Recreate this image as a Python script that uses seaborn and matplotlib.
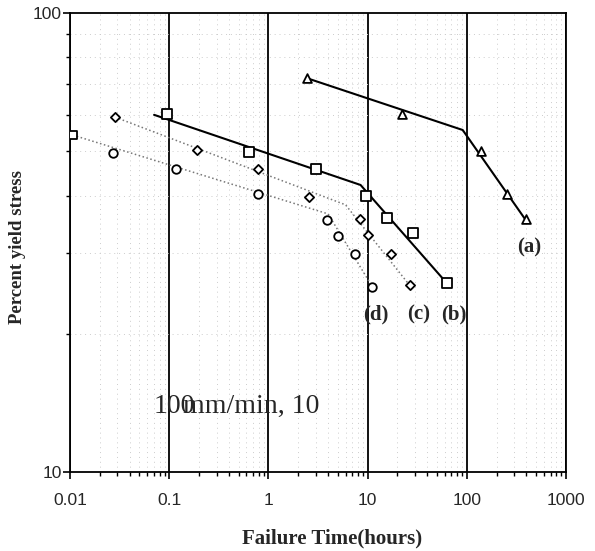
import numpy as np
import pandas as pd
import matplotlib
matplotlib.use("Agg")
import matplotlib.pyplot as plt
import seaborn as sns
from matplotlib.ticker import LogLocator, FixedLocator, NullFormatter, FixedFormatter

sns.set_theme(style="white")
plt.rcParams["font.family"] = ["Liberation Sans", "DejaVu Sans"]

# Measured creep-rupture points (failure time in hours, % of yield stress)
a_time = [2.48, 22.0, 138, 254, 394]
a_stress = [72.1, 60.3, 50.0, 40.3, 35.6]
b_time = [0.0955, 0.643, 3.05, 9.55, 15.6, 28.5, 62.8]
b_stress = [60.3, 49.8, 45.7, 39.9, 35.7, 33.2, 25.8]
c_time = [0.0285, 0.192, 0.793, 2.54, 8.3, 10.2, 17.1, 26.6]
c_stress = [59.3, 50.3, 45.7, 39.7, 35.6, 32.8, 29.8, 25.5]
d_time = [0.0107, 0.0272, 0.118, 0.793, 3.94, 4.98, 7.39, 11.2]
d_stress = [54.2, 49.5, 45.7, 40.3, 35.4, 32.7, 29.8, 25.3]
d_marks = ["s", "o", "o", "o", "o", "o", "o", "o"]

# Two-branch fitted lines (start, knee, end)
a_fit_time = [2.5, 91, 400]
a_fit_stress = [72.0, 55.6, 35.2]
b_fit_time = [0.0705, 8.5, 62.8]
b_fit_stress = [60.0, 42.2, 25.8]
c_fit_time = [0.0285, 6.0, 26.6]
c_fit_stress = [59.3, 38.2, 25.5]
d_fit_time = [0.0107, 4.0, 11.2]
d_fit_stress = [54.2, 36.5, 25.3]

curve_labels = ["(a)", "(b)", "(c)", "(d)"]
label_time = [423, 74, 32.7, 12.05]
label_stress = [30.8, 22.0, 22.0, 22.0]

serif = ["Liberation Serif", "DejaVu Serif"]

fig = plt.figure(figsize=(5.95, 5.51), dpi=100)
ax = fig.add_axes([0.1176, 0.1434, 0.8336, 0.833])
ax.set_xscale("log")
ax.set_yscale("log")
ax.set_xlim(0.01, 1000)
ax.set_ylim(10, 100)

# grids: faint dotted minor, solid black decades
ax.xaxis.set_minor_locator(LogLocator(base=10, subs=np.arange(2, 10)))
ax.yaxis.set_major_locator(FixedLocator([10, 100]))
ax.yaxis.set_minor_locator(FixedLocator([20, 30, 40, 50, 60, 70, 80, 90]))
ax.yaxis.set_major_formatter(FixedFormatter(["10", "100"]))
ax.yaxis.set_minor_formatter(NullFormatter())
ax.grid(which="minor", color="#cccccc", linestyle=(0, (1, 4)), linewidth=0.7)
ax.grid(which="major", axis="x", color="black", linestyle="-", linewidth=1.3)
ax.grid(which="major", axis="y", visible=False)

fits = [
    (a_fit_time, a_fit_stress, "black", "-", 1.5),
    (b_fit_time, b_fit_stress, "black", "-", 1.5),
    (c_fit_time, c_fit_stress, "#777777", ":", 1.1),
    (d_fit_time, d_fit_stress, "#777777", ":", 1.1),
]
for t, s, col, ls, lw in fits:
    sns.lineplot(x=t, y=s, ax=ax, color=col, linestyle=ls, linewidth=lw,
                 sort=False, estimator=None)

points = [
    (a_time, a_stress, ["^"] * len(a_time), 40),
    (b_time, b_stress, ["s"] * len(b_time), 45),
    (c_time, c_stress, ["D"] * len(c_time), 22),
    (d_time, d_stress, d_marks, 38),
]
for t, s, marks, size in points:
    df = pd.DataFrame({"t": t, "s": s, "m": marks})
    for m, grp in df.groupby("m"):
        sns.scatterplot(data=grp, x="t", y="s", ax=ax, marker=m, s=size,
                        facecolor="white", edgecolor="black", linewidth=1.3,
                        zorder=5)

for lab, t, s in zip(curve_labels, label_time, label_stress):
    ax.text(t, s, lab, ha="center", va="center", fontsize=15,
            fontweight="bold", family=serif)

ax.text(0.0689, 13.45, "100", ha="left", va="baseline", fontsize=20, family=serif)
ax.text(0.138, 13.45, "mm/min, 10", ha="left", va="baseline", fontsize=20, family=serif)

ax.set_xticks([0.01, 0.1, 1, 10, 100, 1000])
ax.set_xticklabels(["0.01", "0.1", "1", "10", "100", "1000"])
ax.xaxis.set_minor_formatter(NullFormatter())
ax.tick_params(axis="both", which="major", direction="out", length=5, width=1.2,
               labelsize=12.5, color="black", bottom=True, left=True)
ax.tick_params(axis="x", which="major", pad=10)
ax.tick_params(axis="y", which="major", pad=1)
ax.tick_params(axis="both", which="minor", direction="out", length=3, width=1.0,
               color="black", bottom=True, left=True)

for sp in ax.spines.values():
    sp.set_visible(True)
    sp.set_color("black")
    sp.set_linewidth(1.3)

ax.set_xlabel("Failure Time(hours)", fontsize=15, fontweight="bold",
              family=serif, va="center")
ax.xaxis.set_label_coords(0.528, -0.144)
ax.set_ylabel("Percent yield stress", fontsize=13.5, fontweight="bold",
              family=serif, va="center")
ax.yaxis.set_label_coords(-0.105, 0.49)

fig.savefig("out.png", dpi=100, facecolor="white")
